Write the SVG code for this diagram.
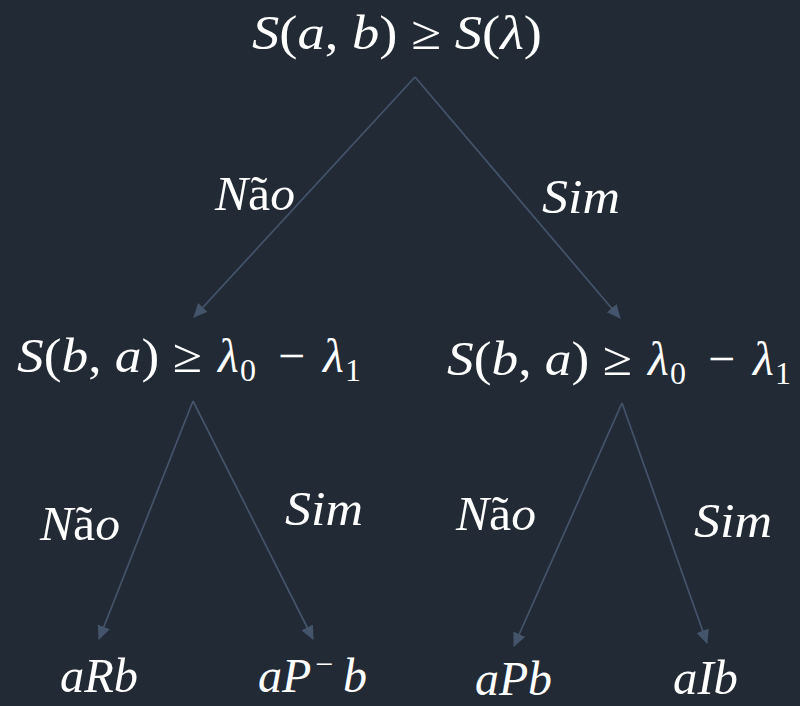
<svg xmlns="http://www.w3.org/2000/svg" width="800" height="706" viewBox="0 0 800 706">
<defs>
<marker id="ah" markerWidth="15" markerHeight="15" refX="13" refY="6.5" orient="auto" markerUnits="userSpaceOnUse">
<path d="M0,0 L14,6.5 L0,13 Z" fill="#44546a"/>
</marker>
<style>
.t{font-style:italic;font-size:48px;fill:#ffffff}
.u{font-style:normal}
.s{font-style:normal;font-size:32px}
.c{stroke:#44546a;stroke-width:1.7;fill:none;marker-end:url(#ah)}
</style>
</defs>
<rect width="800" height="706" fill="#222a35"/>
<g id="connectors">
<line class="c" x1="415" y1="77" x2="194" y2="317"/>
<line class="c" x1="415" y1="77" x2="620" y2="318"/>
<line class="c" x1="193" y1="401" x2="99" y2="639"/>
<line class="c" x1="193" y1="401" x2="313" y2="639"/>
<line class="c" x1="622" y1="403" x2="514" y2="646"/>
<line class="c" x1="622" y1="403" x2="707" y2="643"/>
</g>
<g font-family="Liberation Serif, DejaVu Serif, serif">
<g id="root">
<text class="t" x="252" y="49" textLength="290" lengthAdjust="spacingAndGlyphs">S<tspan class="u">(</tspan>a<tspan class="u">, </tspan>b<tspan class="u">) ≥ </tspan>S<tspan class="u">(</tspan>λ<tspan class="u">)</tspan></text>
</g>
<g id="label-nao-1"><text class="t" x="215" y="210" textLength="80" lengthAdjust="spacingAndGlyphs">N<tspan class="u">ã</tspan>o</text></g>
<g id="label-sim-1"><text class="t" x="542" y="213" textLength="78" lengthAdjust="spacingAndGlyphs">Sim</text></g>
<g id="node-left">
<text class="t" x="17" y="372"><tspan textLength="185" lengthAdjust="spacingAndGlyphs">S<tspan class="u">(</tspan>b<tspan class="u">, </tspan>a<tspan class="u">) ≥</tspan></tspan><tspan x="218">λ</tspan><tspan class="s" x="240" dy="9">0</tspan><tspan class="u" x="278" dy="-9">−</tspan><tspan x="323">λ</tspan><tspan class="s" x="345" dy="9">1</tspan></text>
</g>
<g id="node-right">
<text class="t" x="447" y="375"><tspan textLength="185" lengthAdjust="spacingAndGlyphs">S<tspan class="u">(</tspan>b<tspan class="u">, </tspan>a<tspan class="u">) ≥</tspan></tspan><tspan x="648">λ</tspan><tspan class="s" x="670" dy="9">0</tspan><tspan class="u" x="708" dy="-9">−</tspan><tspan x="753">λ</tspan><tspan class="s" x="775" dy="9">1</tspan></text>
</g>
<g id="label-nao-2"><text class="t" x="40" y="540" textLength="80" lengthAdjust="spacingAndGlyphs">N<tspan class="u">ã</tspan>o</text></g>
<g id="label-sim-2"><text class="t" x="285" y="525" textLength="78" lengthAdjust="spacingAndGlyphs">Sim</text></g>
<g id="label-nao-3"><text class="t" x="456" y="530" textLength="80" lengthAdjust="spacingAndGlyphs">N<tspan class="u">ã</tspan>o</text></g>
<g id="label-sim-3"><text class="t" x="694" y="537" textLength="78" lengthAdjust="spacingAndGlyphs">Sim</text></g>
<g id="leaf-aRb"><text class="t" x="60" y="692" textLength="78" lengthAdjust="spacingAndGlyphs">aRb</text></g>
<g id="leaf-aPminusb"><text class="t" x="258" y="692">aP<tspan class="s" x="315" dy="-17">−</tspan><tspan x="343" dy="17">b</tspan></text></g>
<g id="leaf-aPb"><text class="t" x="475" y="695" textLength="77" lengthAdjust="spacingAndGlyphs">aPb</text></g>
<g id="leaf-aIb"><text class="t" x="673" y="694" textLength="65" lengthAdjust="spacingAndGlyphs">aIb</text></g>
</g>
</svg>
